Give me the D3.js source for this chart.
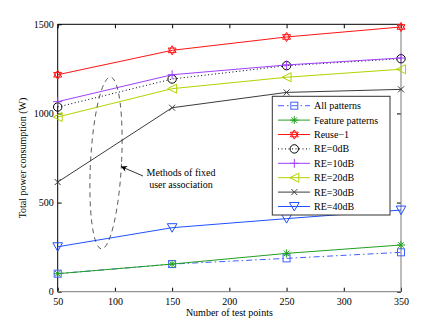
<!DOCTYPE html>
<html>
<head>
<meta charset="utf-8">
<script src="https://cdn.jsdelivr.net/npm/d3@7"></script>
<style>
	body { margin: 0; background: #fff; }
	svg text { font-family: "Liberation Serif", "Times New Roman", Times, "DejaVu Serif", serif; font-size: 10px; fill: #000; }
	.axis path.domain { display: none; }
	.axis line { stroke: #000; }
</style>
</head>
<body>
<svg id="chart" width="443" height="329" font-family="Liberation Serif, Times New Roman, serif"></svg>
<script>
var testPoints = [50, 150, 250, 350];
var allPatterns = [101, 155, 187, 221];
var featurePatterns = [101, 155, 215, 262];
var reuse1 = [1217, 1354, 1429, 1485];
var re0dB = [1036, 1193, 1268, 1307];
var re10dB = [1066, 1217, 1272, 1311];
var re20dB = [980, 1139, 1203, 1248];
var re30dB = [615, 1032, 1118, 1135];
var re40dB = [252, 359, 410, 458];
var seriesNames = ["All patterns", "Feature patterns", "Reuse\u22121", "RE=0dB", "RE=10dB", "RE=20dB", "RE=30dB", "RE=40dB"];
var xTicks = [50, 100, 150, 200, 250, 300, 350];
var yTicks = [0, 500, 1000, 1500];

// style table, same order as seriesNames
var series = [
	{values: allPatterns, color: "#4060ff", dash: "6,3,1.5,3", marker: "square"},
	{values: featurePatterns, color: "#22a022", dash: null, marker: "asterisk"},
	{values: reuse1, color: "#ff1414", dash: null, marker: "hexagram"},
	{values: re0dB, color: "#000000", dash: "1,2.5", marker: "circle"},
	{values: re10dB, color: "#a040ff", dash: null, marker: "plus"},
	{values: re20dB, color: "#b4d200", dash: null, marker: "triangleLeft"},
	{values: re30dB, color: "#3c3c3c", dash: null, marker: "cross"},
	{values: re40dB, color: "#2050ff", dash: null, marker: "triangleDown"}
];
series.forEach(function(s, i){ s.name = seriesNames[i]; });

var sizes = {left: 57.7, right: 401, top: 24.3, bottom: 291.7};

var svg = d3.select("#chart");

var xScale = d3.scaleLinear().domain([50, 350]).range([sizes.left, sizes.right]);
var yScale = d3.scaleLinear().domain([0, 1500]).range([sizes.bottom, sizes.top]);

function translate(x, y) {
	return "translate(" + x + "," + y + ")";
}

function drawMarker(g, type, color) {
	var m = g.append("g")
		.attr("fill", "none")
		.attr("stroke", color)
		.attr("stroke-width", 1);
	if (type === "square") {
		m.append("rect").attr("x", -3.5).attr("y", -3.5).attr("width", 7).attr("height", 7);
	} else if (type === "circle") {
		m.append("circle").attr("r", 4.2);
	} else if (type === "plus") {
		m.append("path").attr("d", "M-4.5,0H4.5M0,-4.5V4.5");
	} else if (type === "cross") {
		m.append("path").attr("d", "M-3,-3L3,3M-3,3L3,-3");
	} else if (type === "asterisk") {
		m.append("path").attr("d", "M-4,0H4M0,-4V4M-2.8,-2.8L2.8,2.8M-2.8,2.8L2.8,-2.8");
	} else if (type === "triangleLeft") {
		m.append("path").attr("d", "M-4.5,0L4.5,-4.5L4.5,4.5Z");
	} else if (type === "triangleDown") {
		m.append("path").attr("d", "M-4.8,-4L4.8,-4L0,4.5Z");
	} else if (type === "hexagram") {
		var r = 4.6;
		var up = d3.range(3).map(function(k){
			var a = -Math.PI / 2 + k * 2 * Math.PI / 3;
			return [r * Math.cos(a), r * Math.sin(a)];
		});
		var down = up.map(function(p){ return [p[0], -p[1]]; });
		m.append("path").attr("d", "M" + up.join("L") + "Z");
		m.append("path").attr("d", "M" + down.join("L") + "Z");
	}
	return m;
}

// axes with ticks pointing inward, labels only bottom and left
svg.append("g")
	.attr("class", "axis x")
	.attr("transform", translate(0, sizes.bottom))
	.call(d3.axisBottom(xScale).tickValues(xTicks).tickFormat(d3.format("d"))
		.tickSizeInner(-4).tickSizeOuter(0).tickPadding(6));
svg.append("g")
	.attr("class", "axis x top")
	.attr("transform", translate(0, sizes.top))
	.call(d3.axisTop(xScale).tickValues(xTicks).tickSizeInner(-4).tickSizeOuter(0).tickFormat(""));
svg.append("g")
	.attr("class", "axis y")
	.attr("transform", translate(sizes.left, 0))
	.call(d3.axisLeft(yScale).tickValues(yTicks).tickFormat(d3.format("d"))
		.tickSizeInner(-4).tickSizeOuter(0).tickPadding(4));
svg.append("g")
	.attr("class", "axis y right")
	.attr("transform", translate(sizes.right, 0))
	.call(d3.axisRight(yScale).tickValues(yTicks).tickSizeInner(-4).tickSizeOuter(0).tickFormat(""));
svg.selectAll(".axis").attr("font-family", null).attr("font-size", null);

// frame: top and left black, right and bottom gray
svg.append("path")
	.attr("d", "M" + sizes.left + "," + sizes.bottom + "V" + sizes.top + "H" + sizes.right)
	.attr("fill", "none").attr("stroke", "#000");
svg.append("path")
	.attr("d", "M" + sizes.left + "," + sizes.bottom + "H" + sizes.right + "V" + sizes.top)
	.attr("fill", "none").attr("stroke", "#7a7a7a");

// axis labels
svg.append("text")
	.attr("x", (sizes.left + sizes.right) / 2)
	.attr("y", 316)
	.attr("text-anchor", "middle")
	.text("Number of test points");
svg.append("text")
	.attr("transform", translate(26, (sizes.top + sizes.bottom) / 2) + " rotate(-90)")
	.attr("text-anchor", "middle")
	.text("Total power consumption (W)");

// lines and markers
var line = d3.line()
	.x(function(d, i){ return xScale(testPoints[i]); })
	.y(function(d){ return yScale(d); });

var plot = svg.append("g").attr("class", "plot");
series.forEach(function(s){
	plot.append("path")
		.datum(s.values)
		.attr("fill", "none")
		.attr("stroke", s.color)
		.attr("stroke-width", 1)
		.attr("stroke-dasharray", s.dash)
		.attr("d", line);
	s.values.forEach(function(v, i){
		var g = plot.append("g").attr("transform", translate(xScale(testPoints[i]), yScale(v)));
		drawMarker(g, s.marker, s.color);
	});
});

// annotation: dashed ellipse round the fixed association curves
svg.append("ellipse")
	.attr("transform", translate(106, 163) + " rotate(3)")
	.attr("rx", 15.5)
	.attr("ry", 86)
	.attr("fill", "none")
	.attr("stroke", "#333")
	.attr("stroke-width", 0.8)
	.attr("stroke-dasharray", "5,4");

svg.append("defs").append("marker")
	.attr("id", "arrowhead")
	.attr("viewBox", "0 0 10 10")
	.attr("refX", 10).attr("refY", 5)
	.attr("markerWidth", 7).attr("markerHeight", 6)
	.attr("markerUnits", "userSpaceOnUse")
	.attr("orient", "auto")
	.append("path")
	.attr("d", "M0,0L10,5L0,10L3,5Z")
	.attr("fill", "#000");
svg.append("line")
	.attr("x1", 143).attr("y1", 176)
	.attr("x2", 121).attr("y2", 166.5)
	.attr("stroke", "#000")
	.attr("stroke-width", 0.8)
	.attr("marker-end", "url(#arrowhead)");
svg.append("text")
	.attr("x", 181).attr("y", 176)
	.attr("text-anchor", "middle")
	.text("Methods of fixed");
svg.append("text")
	.attr("x", 181).attr("y", 188)
	.attr("text-anchor", "middle")
	.text("user association");

// legend
var legend = svg.append("g").attr("class", "legend");
legend.append("rect")
	.attr("x", 272.3).attr("y", 96.3)
	.attr("width", 117.7).attr("height", 118.7)
	.attr("fill", "#fff")
	.attr("stroke", "#333");
series.forEach(function(s, i){
	var y = 105.7 + i * 14.4;
	var row = legend.append("g").attr("transform", translate(0, y));
	row.append("line")
		.attr("x1", 278).attr("x2", 310)
		.attr("stroke", s.color)
		.attr("stroke-width", 1)
		.attr("stroke-dasharray", s.dash);
	drawMarker(row.append("g").attr("transform", translate(294.3, 0)), s.marker, s.color);
	row.append("text")
		.attr("x", 314)
		.attr("dy", "0.35em")
		.text(s.name);
});
</script>
</body>
</html>
